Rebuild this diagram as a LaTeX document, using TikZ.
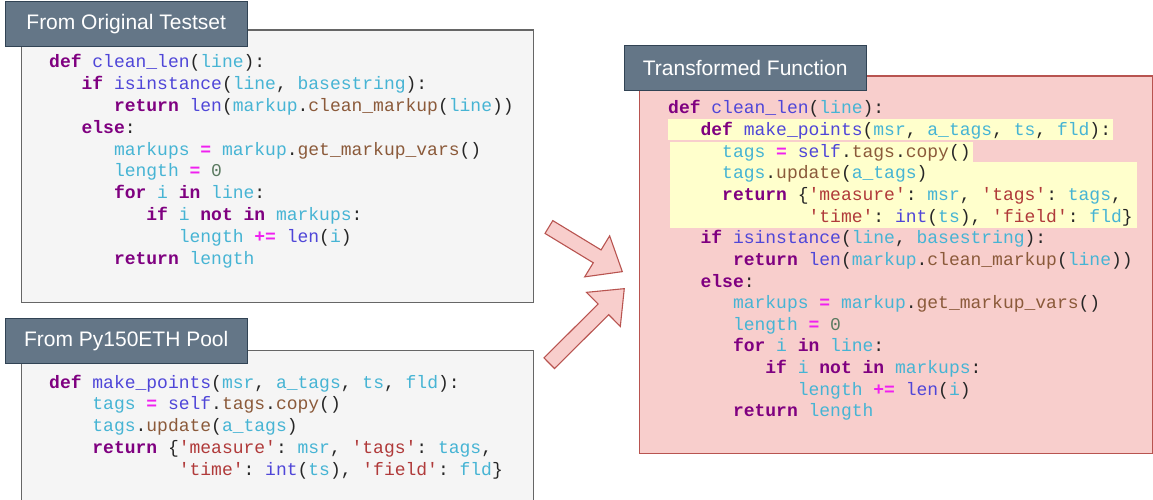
\documentclass[tikz,border=0pt]{standalone}
\usepackage{fontspec}
\setmainfont{Liberation Sans}
\setsansfont{Liberation Sans}
\setmonofont{Liberation Mono}
\definecolor{tabfill}{HTML}{647687}
\definecolor{tabdraw}{HTML}{314354}
\definecolor{grayfill}{HTML}{F5F5F5}
\definecolor{graydraw}{HTML}{666666}
\definecolor{pinkfill}{HTML}{F8CECC}
\definecolor{pinkdraw}{HTML}{B85450}
\definecolor{hlyellow}{HTML}{FFFFCC}
\definecolor{kwc}{HTML}{7F0080}
\definecolor{fnc}{HTML}{4F46D8}
\definecolor{vrc}{HTML}{46B4D4}
\definecolor{atc}{HTML}{8B5A3A}
\definecolor{opc}{HTML}{F020F0}
\definecolor{nmc}{HTML}{5A7A60}
\definecolor{stc}{HTML}{B03A3A}
\definecolor{pnc}{HTML}{262626}
\newcommand\ckw[1]{\textcolor{kwc}{\bfseries #1}}
\newcommand\cfn[1]{\textcolor{fnc}{#1}}
\newcommand\cvr[1]{\textcolor{vrc}{#1}}
\newcommand\cattr[1]{\textcolor{atc}{#1}}
\newcommand\cop[1]{\textcolor{opc}{\bfseries #1}}
\newcommand\cnm[1]{\textcolor{nmc}{#1}}
\newcommand\cst[1]{\textcolor{stc}{#1}}
\tikzset{
  graybox/.style={draw=graydraw, fill=grayfill, line width=1.3pt, anchor=north west, inner sep=0pt},
  pinkbox/.style={draw=pinkdraw, fill=pinkfill, line width=1.3pt, anchor=north west, inner sep=0pt},
  tabbox/.style={draw=tabdraw, fill=tabfill, line width=0.9pt, anchor=north west, inner sep=0pt,
    text=white, font=\sffamily\fontsize{21}{25}\selectfont, minimum width=242.5pt, minimum height=45pt},
  hlbox/.style={fill=hlyellow, anchor=north west, inner sep=0pt},
  code/.style={anchor=base west, inner sep=0pt, text=pnc, font=\ttfamily\fontsize{18}{21.8}\selectfont},
  barrow/.style={draw=pinkdraw, fill=pinkfill, line width=1.1pt, line join=miter}
}
\newcommand\blockarrow[3]{%
  \begin{scope}[shift={#1},rotate=#2]
    \draw[barrow] (0,-7.5) -- ({#3-29.4},-7.5) -- ({#3-29.4},-24) -- (#3,0)
      -- ({#3-29.4},24) -- ({#3-29.4},7.5) -- (0,7.5) -- cycle;
  \end{scope}}
\begin{document}
\begin{tikzpicture}[x=1pt,y=-1pt]
\useasboundingbox (0,0) rectangle (1153,500);
\begin{scope}
\clip (0,0) rectangle (1153,500);
% boxes
\node[graybox, minimum width=512.3pt, minimum height=272.5pt] (box1) at (20.7,29.5) {};
\node[graybox, minimum width=512.3pt, minimum height=180pt] (box2) at (20.7,350) {};
\node[pinkbox, minimum width=513pt, minimum height=377.5pt] (box3) at (639,75.5) {};
% tabs
\node[tabbox] (tab1) at (4.5,0.8) {From Original Testset};
\node[tabbox] (tab2) at (4.5,318) {From Py150ETH Pool};
\node[tabbox] (tab3) at (623.5,45.5) {Transformed Function};
% highlights
\node[hlbox, minimum width=445pt, minimum height=20.3pt] (hl1) at (668,119) {};
\node[hlbox, minimum width=303pt, minimum height=19.9pt] (hl2) at (670,142) {};
\node[hlbox, minimum width=467pt, minimum height=66pt] (hl3) at (670,161.7) {};
% arrows
\blockarrow{(548.9,227)}{-31.3}{85.9}
\blockarrow{(549.2,363.2)}{44.8}{105.8}
% box 1 code
\node[code] (a0) at (49,67.8) {\ckw{def} \cfn{clean\_len}(\cvr{line}):};
\node[code] (a1) at (81.4,89.6) {\ckw{if} \cfn{isinstance}(\cvr{line}, \cvr{basestring}):};
\node[code] (a2) at (113.8,111.4) {\ckw{return} \cfn{len}(\cvr{markup}.\cattr{clean\_markup}(\cvr{line}))};
\node[code] (a3) at (81.4,133.2) {\ckw{else}:};
\node[code] (a4) at (113.8,155) {\cvr{markups} \cop{=} \cvr{markup}.\cattr{get\_markup\_vars}()};
\node[code] (a5) at (113.8,176.8) {\cvr{length} \cop{=} \cnm{0}};
\node[code] (a6) at (113.8,198.6) {\ckw{for} \cvr{i} \ckw{in} \cvr{line}:};
\node[code] (a7) at (146.2,220.4) {\ckw{if} \cvr{i} \ckw{not} \ckw{in} \cvr{markups}:};
\node[code] (a8) at (178.6,242.2) {\cvr{length} \cop{+=} \cfn{len}(\cvr{i})};
\node[code] (a9) at (113.8,264) {\ckw{return} \cvr{length}};
% box 2 code
\node[code] (b0) at (49,388) {\ckw{def} \cfn{make\_points}(\cvr{msr}, \cvr{a\_tags}, \cvr{ts}, \cvr{fld}):};
\node[code] (b1) at (92.2,409.8) {\cvr{tags} \cop{=} \cfn{self}.\cattr{tags}.\cattr{copy}()};
\node[code] (b2) at (92.2,431.6) {\cvr{tags}.\cattr{update}(\cvr{a\_tags})};
\node[code] (b3) at (92.2,453.4) {\ckw{return} \{\cst{'measure'}: \cvr{msr}, \cst{'tags'}: \cvr{tags},};
\node[code] (b4) at (178.6,475.2) {\cst{'time'}: \cfn{int}(\cvr{ts}), \cst{'field'}: \cvr{fld}\}};
% box 3 code
\node[code] (c0) at (668,113.8) {\ckw{def} \cfn{clean\_len}(\cvr{line}):};
\node[code] (c1) at (700.4,135.45) {\ckw{def} \cfn{make\_points}(\cvr{msr}, \cvr{a\_tags}, \cvr{ts}, \cvr{fld}):};
\node[code] (c2) at (722,157.1) {\cvr{tags} \cop{=} \cfn{self}.\cattr{tags}.\cattr{copy}()};
\node[code] (c3) at (722,178.75) {\cvr{tags}.\cattr{update}(\cvr{a\_tags})};
\node[code] (c4) at (722,200.4) {\ckw{return} \{\cst{'measure'}: \cvr{msr}, \cst{'tags'}: \cvr{tags},};
\node[code] (c5) at (808.4,222.05) {\cst{'time'}: \cfn{int}(\cvr{ts}), \cst{'field'}: \cvr{fld}\}};
\node[code] (c6) at (700.4,243.7) {\ckw{if} \cfn{isinstance}(\cvr{line}, \cvr{basestring}):};
\node[code] (c7) at (732.8,265.35) {\ckw{return} \cfn{len}(\cvr{markup}.\cattr{clean\_markup}(\cvr{line}))};
\node[code] (c8) at (700.4,287) {\ckw{else}:};
\node[code] (c9) at (732.8,308.65) {\cvr{markups} \cop{=} \cvr{markup}.\cattr{get\_markup\_vars}()};
\node[code] (c10) at (732.8,330.3) {\cvr{length} \cop{=} \cnm{0}};
\node[code] (c11) at (732.8,351.95) {\ckw{for} \cvr{i} \ckw{in} \cvr{line}:};
\node[code] (c12) at (765.2,373.6) {\ckw{if} \cvr{i} \ckw{not} \ckw{in} \cvr{markups}:};
\node[code] (c13) at (797.6,395.25) {\cvr{length} \cop{+=} \cfn{len}(\cvr{i})};
\node[code] (c14) at (732.8,416.9) {\ckw{return} \cvr{length}};
\end{scope}
\end{tikzpicture}
\end{document}
